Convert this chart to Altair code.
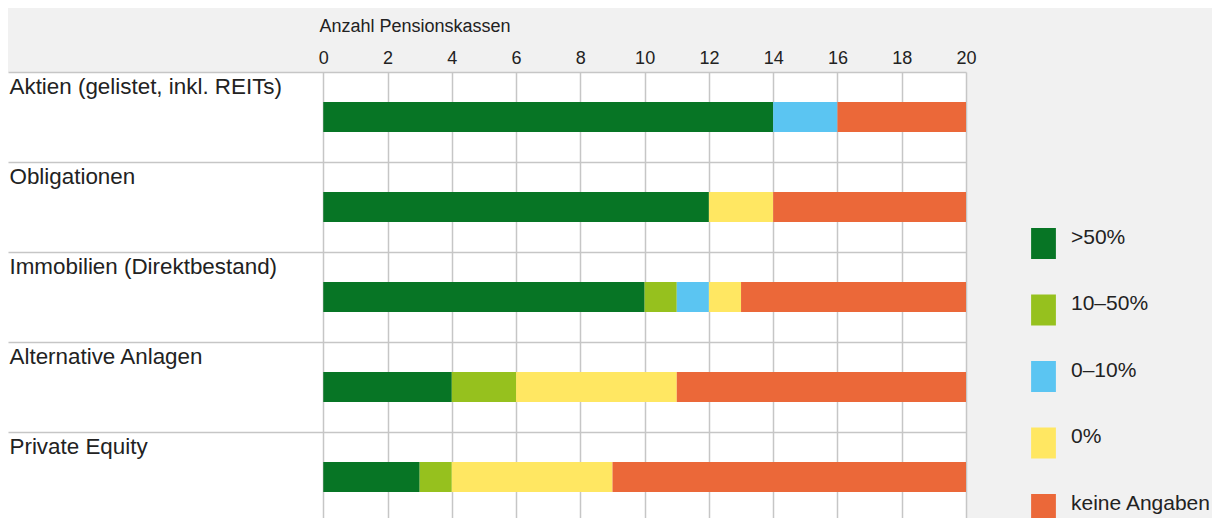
import altair as alt
import pandas as pd

categories = [
    "Aktien (gelistet, inkl. REITs)",
    "Obligationen",
    "Immobilien (Direktbestand)",
    "Alternative Anlagen",
    "Private Equity",
]
series = [">50%", "10–50%", "0–10%", "0%", "keine Angaben"]
colors = ["#077525", "#96c11e", "#5bc5f2", "#ffe762", "#eb6839"]

v_gt50 = [14, 12, 10, 4, 3]
v_10_50 = [0, 0, 1, 2, 1]
v_0_10 = [2, 0, 1, 0, 0]
v_0 = [0, 2, 1, 5, 5]
v_keine = [4, 6, 7, 9, 11]

x_ticks = [0, 2, 4, 6, 8, 10, 12, 14, 16, 18, 20]

rows = []
for si, (name, vals) in enumerate(zip(series, [v_gt50, v_10_50, v_0_10, v_0, v_keine])):
    for cat, v in zip(categories, vals):
        if v > 0:
            rows.append({"Kategorie": cat, "Serie": name, "Wert": v, "Reihenfolge": si})
df = pd.DataFrame(rows)

FONT = "Liberation Sans, Arial, Helvetica, sans-serif"
TEXT = "#222222"
GRID = "#c6c6c6"

chart = (
    alt.Chart(df)
    .mark_bar(size=30, strokeWidth=0)
    .encode(
        x=alt.X(
            "sum(Wert):Q",
            stack="zero",
            scale=alt.Scale(domain=[-9.81, 20], nice=False, zero=False),
            axis=alt.Axis(
                orient="top",
                values=x_ticks,
                grid=True,
                gridColor=GRID,
                gridWidth=1.5,
                domain=False,
                ticks=False,
                tickSize=0,
                labelFontSize=18,
                labelColor=TEXT,
                labelFont=FONT,
                labelPadding=9,
                labelBaseline="alphabetic",
                labelFlush=False,
                title="Anzahl Pensionskassen",
                titleFont=FONT,
                titleFontSize=18,
                titleFontWeight="normal",
                titleColor=TEXT,
                titleAlign="left",
                titleBaseline="alphabetic",
                titleX=311,
                titleY=-41,
            ),
        ),
        y=alt.Y(
            "Kategorie:N",
            sort=categories,
            scale=alt.Scale(domain=categories, paddingInner=0, paddingOuter=0),
            axis=alt.Axis(
                orient="left",
                title=None,
                bandPosition=0,
                grid=True,
                gridColor=GRID,
                gridWidth=1.5,
                domain=False,
                ticks=False,
                tickSize=0,
                labelAlign="left",
                labelBaseline="alphabetic",
                labelPadding=-1,
                labelOffset=-23,
                labelFontSize=22.4,
                labelFont=FONT,
                labelColor=TEXT,
                labelLimit=500,
                labelOverlap=False,
            ),
        ),
        color=alt.Color(
            "Serie:N",
            scale=alt.Scale(domain=series, range=colors),
            legend=alt.Legend(
                title=None,
                orient="none",
                legendX=1020,
                legendY=156,
                symbolType="M-0.8,-1H0.8V1H-0.8Z",
                symbolSize=961,
                symbolStrokeWidth=0,
                symbolOpacity=1,
                labelFontSize=21,
                labelFont=FONT,
                labelColor=TEXT,
                labelBaseline="alphabetic",
                labelOffset=12,
                rowPadding=33.5,
                labelLimit=300,
            ),
        ),
        order=alt.Order("Reihenfolge:Q"),
        tooltip=["Kategorie", "Serie", "Wert"],
    )
    .properties(
        width=958,
        height=450,
        background="#f1f1f1",
        autosize=alt.AutoSizeParams(type="none"),
        padding={"left": 0, "top": 64, "right": 246, "bottom": 0},
    )
    .configure_view(fill="white", stroke=None)
)

chart.save("out.html", embed_options={"renderer": "svg", "actions": False})
